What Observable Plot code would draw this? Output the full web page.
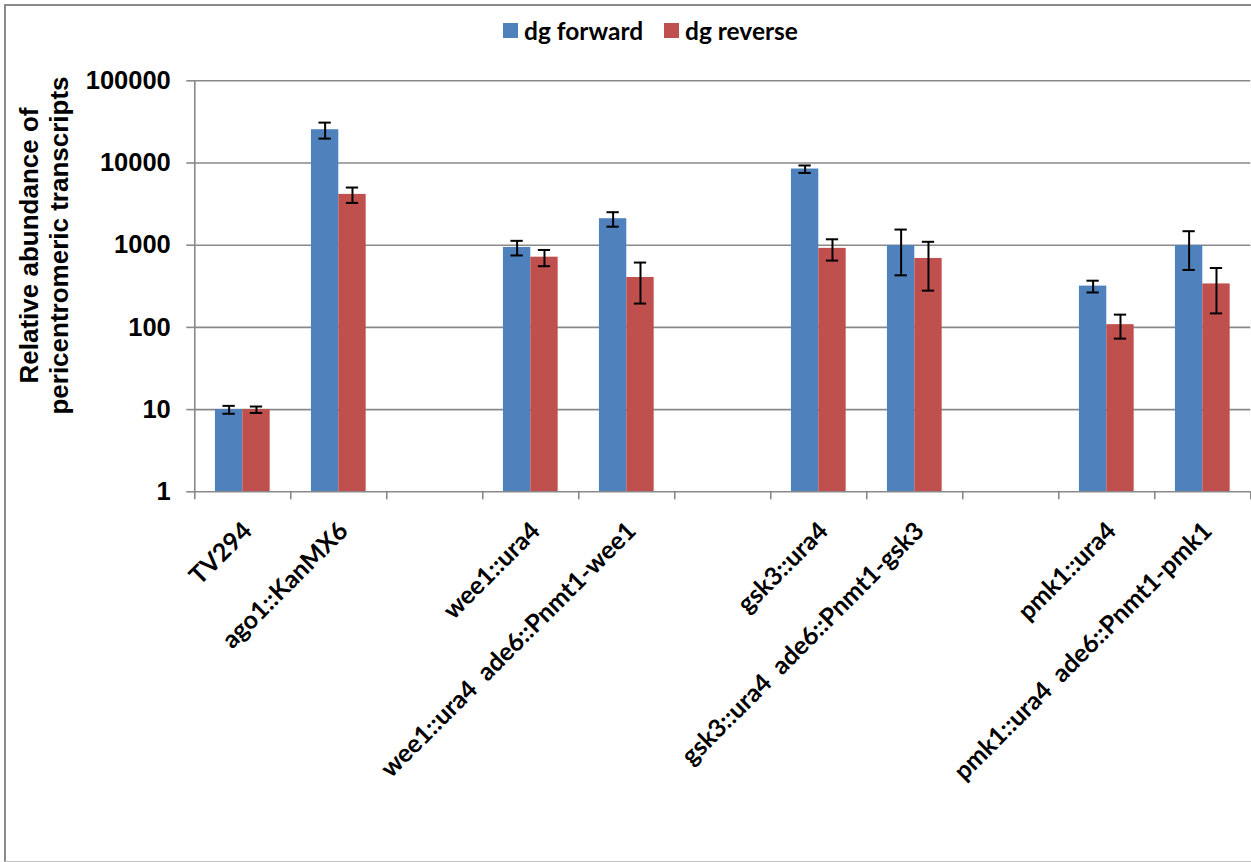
<!DOCTYPE html>
<html>
<head>
<meta charset="utf-8">
<script src="https://cdn.jsdelivr.net/npm/d3@7"></script>
<script src="https://cdn.jsdelivr.net/npm/@observablehq/plot@0.6"></script>
<style>
  body { margin: 0; background: #fff; }
  #page { position: relative; width: 1251px; height: 862px; overflow: hidden; background: #fff; }
  #legend { position: relative; height: 56px; font-family: Lato, "Open Sans", sans-serif; font-weight: 700; font-size: 24.5px; color: #000; }
  #legend .item { position: absolute; top: 17px; height: 26px; display: flex; align-items: center; white-space: nowrap; }
  #legend .sw { width: 15px; height: 15px; margin-right: 6px; flex: none; }
  #frame { position: absolute; left: 4px; top: 4px; width: 1300px; height: 857.5px; box-sizing: border-box;
           border-style: solid; border-width: 2px 0 1.5px 2px; border-color: #8a8a8a; border-bottom-color: #c4c4c4;
           pointer-events: none; }
</style>
</head>
<body>
<div id="page">
  <div id="legend"></div>
  <div id="chart"></div>
  <div id="frame"></div>
</div>
<script>
// Strains along the x axis; empty strings leave a gap between groups.
const categories = [
  "TV294",
  "ago1::KanMX6",
  "",
  "wee1::ura4",
  "wee1::ura4\u00a0 ade6::Pnmt1-wee1",
  "",
  "gsk3::ura4",
  "gsk3::ura4\u00a0 ade6::Pnmt1-gsk3",
  "",
  "pmk1::ura4",
  "pmk1::ura4\u00a0 ade6::Pnmt1-pmk1"
];
const seriesNames = ["dg forward", "dg reverse"];

// Relative transcript abundance and its error, per strain.
const forward    = [10, 25400, null, 940, 2100, null, 8450, 990, null, 318, 990];
const forwardErr = [1.1, 5600, null, 190, 420, null, 880, 560, null, 52, 490];
const reverse    = [10, 4150, null, 715, 405, null, 915, 690, null, 108, 338];
const reverseErr = [0.9, 880, null, 160, 210, null, 265, 410, null, 35, 190];

const yTicks = [1, 10, 100, 1000, 10000, 100000];
const colors = ["#4F81BD", "#C0504D"];

// Layout helpers (fractions of one category slot)
const barWidth = 0.285;
const capHalf = 0.064;
const gridColor = "#898989";

const series = [[forward, forwardErr], [reverse, reverseErr]];
const rows = [];
categories.forEach((cat, i) => {
  series.forEach(([vals, errs], s) => {
    if (vals[i] == null) return;
    const x1 = i + (s - 1) * barWidth;
    const x2 = i + s * barWidth;
    rows.push({cat, i, series: seriesNames[s], value: vals[i], err: errs[i], x1, x2, xc: (x1 + x2) / 2});
  });
});
const labelled = categories.map((cat, i) => ({cat, i})).filter(d => d.cat !== "");
const xDomain = [-0.5, categories.length - 0.5];
const boundaries = d3.range(categories.length + 1).map(k => k - 0.5);

// Legend
const legend = document.getElementById("legend");
const legendLeft = [503, 664];
seriesNames.forEach((name, s) => {
  const item = document.createElement("div");
  item.className = "item";
  item.style.left = legendLeft[s] + "px";
  const sw = document.createElement("span");
  sw.className = "sw";
  sw.style.background = colors[s];
  const label = document.createElement("span");
  label.textContent = name;
  item.append(sw, label);
  legend.append(item);
});

const chart = Plot.plot({
  width: 1251,
  height: 806,
  marginTop: 24.3,
  marginBottom: 370.7,
  marginLeft: 194.3,
  marginRight: 0.7,
  style: {fontFamily: "'Liberation Sans', Arial, sans-serif", background: "transparent", overflow: "visible", color: "#000"},
  x: {domain: xDomain, label: null},
  y: {type: "log", domain: [yTicks[0], yTicks[yTicks.length - 1]], label: null},
  color: {domain: seriesNames, range: colors},
  marks: [
    Plot.gridY(yTicks.slice(1), {stroke: gridColor, strokeOpacity: 1, strokeWidth: 1.6}),
    Plot.rect(rows, {x1: "x1", x2: "x2", y1: yTicks[0], y2: "value", fill: "series"}),
    Plot.ruleY([yTicks[0]], {stroke: gridColor, strokeWidth: 1.6}),
    Plot.ruleX([xDomain[0]], {stroke: gridColor, strokeWidth: 1.6}),
    Plot.axisX(boundaries, {tickSize: 8, tickFormat: () => "", stroke: gridColor, strokeWidth: 1.6}),
    Plot.axisY(yTicks, {tickSize: 8, tickPadding: 16, stroke: gridColor, strokeWidth: 1.6,
      tickFormat: d => String(d), fontSize: 25.5, fontWeight: "bold"}),
    // error bars
    Plot.ruleX(rows, {x: "xc", y1: d => d.value - d.err, y2: d => d.value + d.err, stroke: "#000", strokeWidth: 2}),
    Plot.ruleY(rows, {y: d => d.value + d.err, x1: d => d.xc - capHalf, x2: d => d.xc + capHalf, stroke: "#000", strokeWidth: 2}),
    Plot.ruleY(rows, {y: d => d.value - d.err, x1: d => d.xc - capHalf, x2: d => d.xc + capHalf, stroke: "#000", strokeWidth: 2}),
    // strain labels
    Plot.text(labelled, {x: "i", text: "cat", frameAnchor: "bottom", textAnchor: "end", lineAnchor: "middle",
      rotate: -45, dx: 5, dy: 35, fontFamily: "Lato, 'Open Sans', sans-serif", fontWeight: "bold", fontSize: 25, fill: "#000"}),
    // y axis title
    Plot.text(["Relative abundance of\npericentromeric transcripts"], {text: d => d, frameAnchor: "left",
      rotate: -90, dx: -151, dy: -40.8, fontSize: 26, fontWeight: "bold", lineHeight: 1.15,
      textAnchor: "middle", lineAnchor: "middle", fill: "#000"})
  ]
});
document.getElementById("chart").append(chart);
</script>
</body>
</html>
